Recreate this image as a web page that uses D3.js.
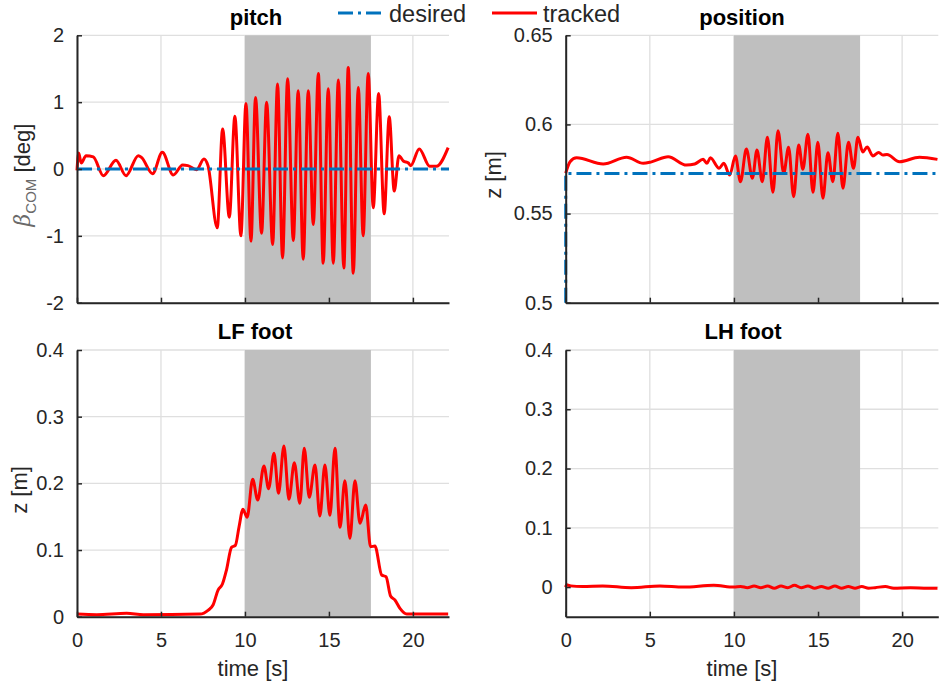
<!DOCTYPE html>
<html>
<head>
<meta charset="utf-8">
<script src="https://cdn.jsdelivr.net/npm/d3@7"></script>
<style>
  body { margin: 0; background: #fff; }
  text { font-family: "Liberation Sans", Arial, sans-serif; fill: #262626; }
</style>
</head>
<body>
<svg id="chart" width="940" height="684"></svg>
<script>
// --- data (time in s) ---
const timeTicks = [0, 5, 10, 15, 20];
const timeEnd = 22.15;
const shadeSpan = [10, 17.5];

const pitchTicks = [-2, -1, 0, 1, 2];
const positionTicks = [0.5, 0.55, 0.6, 0.65];
const footTicks = [0, 0.1, 0.2, 0.3, 0.4];

// pitch [deg]
const pitchDesired = [[0, 0], [timeEnd, 0]];
const pitchTracked = [
  [0, -0.02], [0.1, 0.24], [0.25, 0.09], [0.54, 0.2], [0.97, 0.18], [1.57, -0.1], [2.32, 0.13],
  [2.92, -0.1], [3.65, 0.2], [3.85, 0.17], [4.5, -0.07], [5.08, 0.25], [5.73, -0.09], [6.29, 0.06],
  [6.6, 0.05], [7.12, -0.01], [7.56, 0.15], [7.8, 0.05], [8.35, -0.88], [8.67, 0.6], [9.07, -0.72],
  [9.4, 0.79], [9.76, -1.0], [10.06, 0.98], [10.36, -1.08], [10.63, 1.07], [10.99, -0.96],
  [11.29, 1.0], [11.65, -1.13], [11.94, 1.27], [12.24, -1.33], [12.54, 1.35], [12.88, -1.07],
  [13.17, 1.17], [13.47, -1.35], [13.77, 1.17], [14.07, -0.83], [14.37, 1.43], [14.66, -1.41],
  [14.96, 1.2], [15.26, -1.41], [15.56, 1.33], [15.89, -1.48], [16.15, 1.52], [16.45, -1.56],
  [16.75, 1.22], [17.04, -1.0], [17.34, 1.43], [17.64, -0.58], [17.96, 1.13], [18.29, -0.67],
  [18.59, 0.78], [18.89, -0.33], [19.17, 0.2], [19.43, 0.12], [19.73, 0.09], [19.87, 0.05],
  [20.38, 0.3], [21.0, 0.04], [21.4, 0.04], [22.1, 0.32]
];

// COM height z [m]
const positionDesired = [[0, 0.5], [0, 0.5725], [timeEnd, 0.5725]];
const positionTracked = [
  [0, 0.5727], [0.26, 0.5791], [0.65, 0.5813], [2.23, 0.5778], [3.62, 0.5816], [4.61, 0.5782],
  [5.1, 0.579], [6.09, 0.5819], [7.18, 0.5772], [7.67, 0.5778], [8.17, 0.5804], [8.4, 0.5782],
  [8.6, 0.5813], [9.12, 0.5754], [9.4, 0.5782], [9.75, 0.5716], [10.09, 0.5823], [10.39, 0.5679],
  [10.74, 0.5862], [11.1, 0.5698], [11.37, 0.5856], [11.69, 0.5679], [11.99, 0.5928],
  [12.32, 0.5619], [12.62, 0.5965], [12.96, 0.5726], [13.25, 0.5872], [13.55, 0.5595],
  [13.85, 0.5885], [14.1, 0.5748], [14.4, 0.5945], [14.7, 0.5619], [14.99, 0.59], [15.29, 0.5586],
  [15.59, 0.5841], [15.88, 0.5679], [16.18, 0.595], [16.48, 0.5642], [16.81, 0.59], [17.11, 0.5754],
  [17.37, 0.5928], [17.66, 0.5845], [17.92, 0.5873], [18.26, 0.5823], [18.61, 0.5843],
  [18.85, 0.5828], [19.1, 0.5832], [19.84, 0.5791], [21.03, 0.5816], [22.1, 0.5804]
];

// LF foot z [m]
const lfTracked = [
  [0, 0.004], [1.17, 0.003], [2.96, 0.005], [3.95, 0.003], [7.32, 0.004], [7.82, 0.01],
  [8.1, 0.0175], [8.4, 0.04], [8.66, 0.049], [8.9, 0.07], [9.2, 0.104], [9.43, 0.107],
  [9.65, 0.135], [9.88, 0.161], [10.13, 0.149], [10.46, 0.206], [10.76, 0.175], [11.13, 0.226],
  [11.41, 0.192], [11.73, 0.245], [12.0, 0.185], [12.32, 0.256], [12.62, 0.176], [12.94, 0.231],
  [13.27, 0.17], [13.53, 0.2525], [13.83, 0.179], [14.17, 0.2275], [14.46, 0.151], [14.76, 0.2275],
  [15.06, 0.152], [15.36, 0.2525], [15.66, 0.134], [15.95, 0.204], [16.25, 0.1175], [16.55, 0.204],
  [16.85, 0.14], [17.19, 0.1675], [17.48, 0.105], [17.74, 0.106], [18.14, 0.0625], [18.4, 0.06],
  [18.67, 0.031], [18.93, 0.025], [19.23, 0.0125], [19.63, 0.004], [22.1, 0.004]
];

// LH foot z [m]
const lhTracked = [
  [0, 0], [0.05, 0.004], [0.3, 0.002], [1, 0.001], [2.2, 0.002], [3.9, -0.001], [5.6, 0.002],
  [7, 0], [8.8, 0.003], [10, 0], [10.4, 0.001], [10.8, -0.001], [11.2, 0.002], [11.6, -0.001],
  [12, 0.002], [12.4, -0.002], [12.8, 0.002], [13.2, -0.001], [13.6, 0.003], [14, -0.001],
  [14.4, 0.002], [14.8, -0.002], [15.2, 0.001], [15.6, -0.002], [16, 0.002], [16.4, -0.002],
  [16.8, 0.001], [17.2, -0.002], [17.6, 0.001], [18, -0.002], [18.4, -0.001], [19, 0.001],
  [19.5, -0.002], [20.5, -0.001], [21.5, -0.002], [22.1, -0.002]
];

const blue = "#0072bd";
const red = "#ff0000";
const dashDot = "15,5,3,5";

const svg = d3.select("#chart");
svg.append("rect").attr("width", 940).attr("height", 684).attr("fill", "#fff");

// panels: position in pixels + what goes in them
const panels = [
  { id: "p1", left: 77, right: 449, top: 35.3, bottom: 302.7, yDomain: [-2, 2], yTicks: pitchTicks,
    title: "pitch", titleX: 256, titleY: 25, xLabels: false, yLabel: "pitch", yLabelX: 30, yLabelY: 175,
    desired: pitchDesired, tracked: pitchTracked },
  { id: "p2", left: 565.7, right: 938.3, top: 35.3, bottom: 302.7, yDomain: [0.5, 0.65], yTicks: positionTicks,
    title: "position", titleX: 742, titleY: 25, xLabels: false, yLabel: "z [m]", yLabelX: 501, yLabelY: 175,
    desired: positionDesired, tracked: positionTracked },
  { id: "p3", left: 77, right: 449, top: 350, bottom: 616.7, yDomain: [0, 0.4], yTicks: footTicks,
    title: "LF foot", titleX: 255, titleY: 339, xLabels: true, yLabel: "z [m]", yLabelX: 27, yLabelY: 490,
    desired: null, tracked: lfTracked },
  { id: "p4", left: 565.7, right: 938.3, top: 350, bottom: 616.7, yDomain: [-0.05, 0.4], yTicks: footTicks,
    title: "LH foot", titleX: 743, titleY: 339, xLabels: true, yLabel: null,
    desired: null, tracked: lhTracked }
];

panels.forEach(p => {
  const x = d3.scaleLinear().domain([0, timeEnd]).range([p.left, p.right]);
  const y = d3.scaleLinear().domain(p.yDomain).range([p.bottom, p.top]);
  const g = svg.append("g");

  g.append("clipPath").attr("id", "clip-" + p.id)
    .append("rect")
    .attr("x", p.left - 2).attr("y", p.top - 2)
    .attr("width", p.right - p.left + 4).attr("height", p.bottom - p.top + 4);

  // grid
  g.append("g").selectAll("line").data(timeTicks).join("line")
    .attr("x1", d => x(d)).attr("x2", d => x(d))
    .attr("y1", p.top).attr("y2", p.bottom)
    .attr("stroke", "#dfdfdf").attr("stroke-width", 1.3);
  g.append("g").selectAll("line").data(p.yTicks).join("line")
    .attr("x1", p.left).attr("x2", p.right)
    .attr("y1", d => y(d)).attr("y2", d => y(d))
    .attr("stroke", "#dfdfdf").attr("stroke-width", 1.3);

  // shaded interval
  g.append("rect")
    .attr("x", x(shadeSpan[0])).attr("y", p.top)
    .attr("width", x(shadeSpan[1]) - x(shadeSpan[0]))
    .attr("height", p.bottom - p.top)
    .attr("fill", "#bfbfbf");

  const plot = g.append("g").attr("clip-path", `url(#clip-${p.id})`);

  const smooth = d3.line().x(d => x(d[0])).y(d => y(d[1])).curve(d3.curveMonotoneX);
  const straight = d3.line().x(d => x(d[0])).y(d => y(d[1]));

  plot.append("path").datum(p.tracked)
    .attr("d", smooth)
    .attr("fill", "none").attr("stroke", red).attr("stroke-width", 3)
    .attr("stroke-linejoin", "round");

  if (p.desired) {
    plot.append("path").datum(p.desired)
      .attr("d", straight)
      .attr("fill", "none").attr("stroke", blue).attr("stroke-width", 3)
      .attr("stroke-dasharray", dashDot);
  }

  // axes, ticks pointing inward like MATLAB
  const yAxis = d3.axisLeft(y).tickValues(p.yTicks).tickSizeInner(-5).tickSizeOuter(0)
    .tickPadding(13).tickFormat(d => String(d));
  const xAxis = d3.axisBottom(x).tickValues(timeTicks).tickSizeInner(-5).tickSizeOuter(0)
    .tickPadding(16).tickFormat(d => p.xLabels ? String(d) : "");

  const ya = g.append("g").attr("transform", `translate(${p.left},0)`).call(yAxis);
  const xa = g.append("g").attr("transform", `translate(0,${p.bottom})`).call(xAxis);
  [ya, xa].forEach(a => {
    a.select(".domain").attr("stroke", "#262626").attr("stroke-width", 2);
    a.selectAll(".tick line").attr("stroke", "#262626").attr("stroke-width", 1.5);
    a.selectAll(".tick text").attr("fill", "#262626")
      .style("font-family", '"Liberation Sans", Arial, sans-serif').style("font-size", "20px");
  });

  // title
  g.append("text")
    .attr("x", p.titleX).attr("y", p.titleY)
    .attr("text-anchor", "middle")
    .style("font-size", "22px").style("font-weight", "bold")
    .style("fill", "#000")
    .text(p.title);

  if (p.xLabels) {
    g.append("text")
      .attr("x", (p.left + p.right) / 2 - 10).attr("y", 676)
      .attr("text-anchor", "middle")
      .style("font-size", "22px")
      .text("time [s]");
  }

  if (p.yLabel === "pitch") {
    const t = g.append("text")
      .attr("transform", `translate(${p.yLabelX},${p.yLabelY}) rotate(-90)`)
      .attr("text-anchor", "middle")
      .style("font-size", "22px");
    t.append("tspan").text("\u03B2")
      .style("font-family", '"DejaVu Serif", serif').style("font-style", "italic")
      .style("fill", "#6a6a6a");
    t.append("tspan").text("COM").attr("dy", 6)
      .style("font-size", "15px").style("fill", "#6a6a6a");
    t.append("tspan").text(" [deg]").attr("dy", -6);
  } else if (p.yLabel) {
    g.append("text")
      .attr("transform", `translate(${p.yLabelX},${p.yLabelY}) rotate(-90)`)
      .attr("text-anchor", "middle")
      .style("font-size", "22px")
      .text(p.yLabel);
  }
});

// legend across the top
const legend = svg.append("g");
legend.append("line").attr("x1", 338).attr("x2", 385).attr("y1", 13).attr("y2", 13)
  .attr("stroke", blue).attr("stroke-width", 3).attr("stroke-dasharray", dashDot);
legend.append("text").attr("x", 389).attr("y", 21.5).style("font-size", "23.5px").text("desired");
legend.append("line").attr("x1", 492).attr("x2", 537).attr("y1", 13).attr("y2", 13)
  .attr("stroke", red).attr("stroke-width", 3);
legend.append("text").attr("x", 543).attr("y", 21.5).style("font-size", "23.5px").text("tracked");
</script>
</body>
</html>
